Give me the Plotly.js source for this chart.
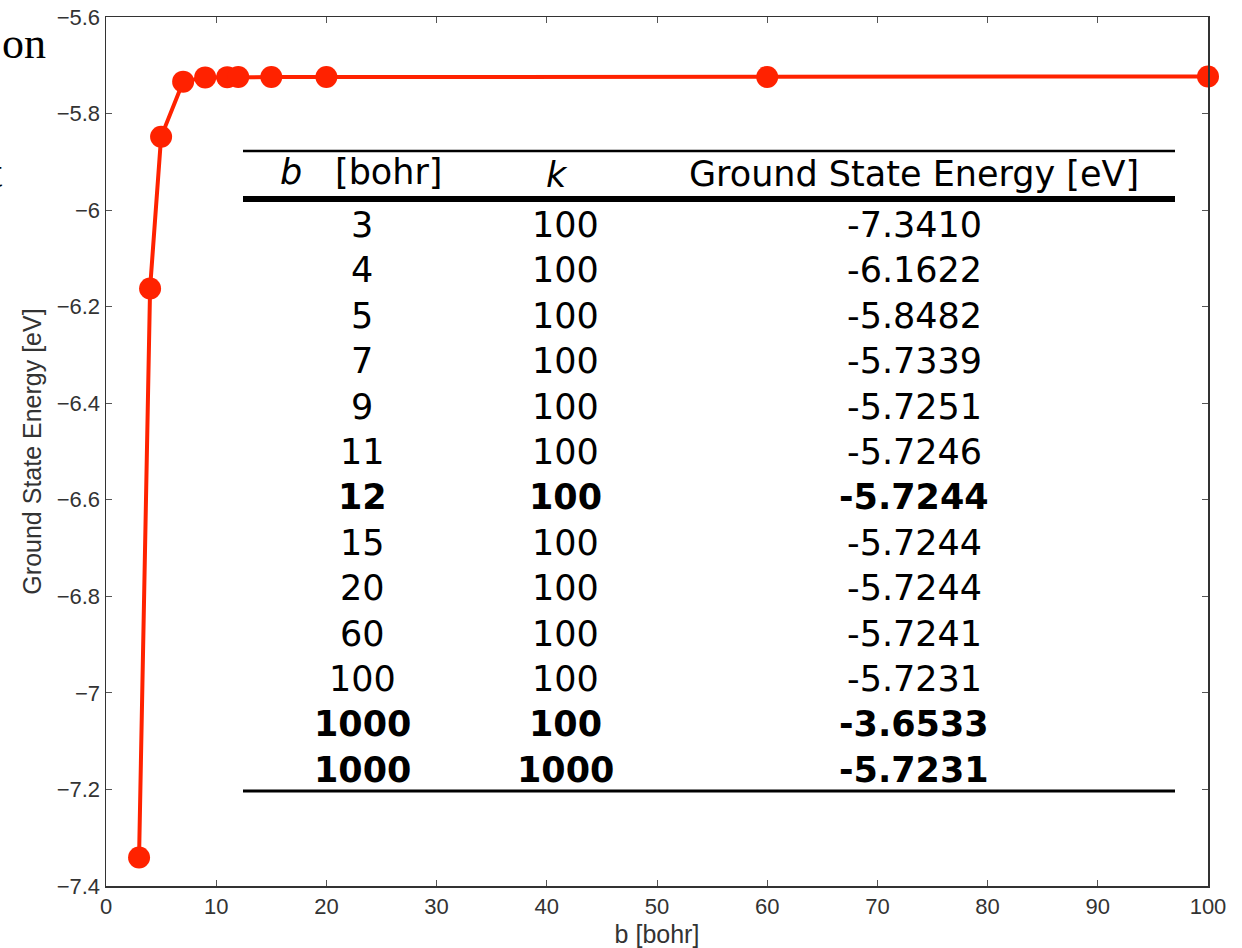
<!DOCTYPE html>
<html>
<head>
<meta charset="utf-8">
<script src="https://cdn.plot.ly/plotly-3.0.1.min.js"></script>
<style>html,body{margin:0;padding:0;background:#fff;}#chart{width:1242px;height:948px;}</style>
</head>
<body>
<div id="chart"></div>
<script>
// ---- data ----
const plotB = [3, 4, 5, 7, 9, 11, 12, 15, 20, 60, 100];
const plotE = [-7.3410, -6.1622, -5.8482, -5.7339, -5.7251, -5.7246, -5.7244, -5.7244, -5.7244, -5.7241, -5.7231];

const tableB = ['3','4','5','7','9','11','12','15','20','60','100','1000','1000'];
const tableK = ['100','100','100','100','100','100','100','100','100','100','100','100','1000'];
const tableE = ['-7.3410','-6.1622','-5.8482','-5.7339','-5.7251','-5.7246','-5.7244','-5.7244','-5.7244','-5.7241','-5.7231','-3.6533','-5.7231'];
const tableBold = [false,false,false,false,false,false,true,false,false,false,false,true,true];

const xTicks = [0,10,20,30,40,50,60,70,80,90,100];
const yTicks = [-7.4,-7.2,-7,-6.8,-6.6,-6.4,-6.2,-6,-5.8,-5.6];

// ---- layout helpers (pixel -> paper) ----
const W = 1242, H = 948;
const L = 106, R = 1208, T = 17, B = 886;
const px = x => (x - L) / (R - L);
const py = y => (B - y) / (B - T);

const annotations = [];
const shapes = [];
const tableFont = 'DejaVu Sans, Verdana, sans-serif';
const tfs = 35;
function addText(text, x, y, opts) {
  annotations.push(Object.assign({
    text: text, xref: 'paper', yref: 'paper', x: px(x), y: py(y),
    xanchor: 'center', yanchor: 'middle', showarrow: false,
    font: {family: tableFont, size: tfs, color: '#000'}
  }, opts || {}));
}
// header
addText('<i>b</i>', 291, 172);
addText('[bohr]', 389, 172);
addText('<i>k</i>', 557, 175);
addText('Ground State Energy [eV]', 914, 174);
const colX = [362, 565, 914];
const rowY0 = 225, rowDY = 45.4;
tableB.forEach((b, i) => {
  const y = rowY0 + i * rowDY;
  const wrap = s => tableBold[i] ? '<b>' + s + '</b>' : s;
  addText(wrap(b), colX[0], y);
  addText(wrap(tableK[i]), colX[1], y);
  addText(wrap(tableE[i]), colX[2], y);
});
function hline(y, w) {
  shapes.push({type: 'line', xref: 'paper', yref: 'paper', x0: px(243), x1: px(1175), y0: py(y), y1: py(y),
    line: {color: '#000', width: w}});
}
hline(151, 2.5);
hline(199, 6);
hline(791, 3);

// stray slide text on the left
annotations.push({text: 'on', xref: 'paper', yref: 'paper', x: px(0), y: py(44), xanchor: 'left', yanchor: 'middle',
  showarrow: false, font: {family: 'Liberation Serif, Times New Roman, serif', size: 44, color: '#000'}});
annotations.push({text: 't', xref: 'paper', yref: 'paper', x: px(4), y: py(172), xanchor: 'right', yanchor: 'middle',
  showarrow: false, font: {family: 'Liberation Serif, Times New Roman, serif', size: 44, color: '#000'}});

const red = 'rgb(255,34,0)';
const trace = {
  x: plotB, y: plotE, type: 'scatter', mode: 'lines+markers',
  line: {color: red, width: 4},
  marker: {color: red, size: 22},
  cliponaxis: false, hoverinfo: 'none'
};

const labelFont = {family: 'Liberation Sans, Arial, sans-serif', size: 22, color: '#333'};
const titleFont = {family: 'Liberation Sans, Arial, sans-serif', size: 25, color: '#333'};
const axisCommon = {
  showline: true, mirror: 'ticks', linecolor: '#333', linewidth: 1.5,
  ticks: 'inside', ticklen: 6, tickcolor: '#555', tickwidth: 1,
  showgrid: false, zeroline: false, tickmode: 'array',
  tickfont: labelFont
};

const layout = {
  width: W, height: H,
  margin: {l: L, r: W - R, t: T, b: H - B, pad: 0},
  paper_bgcolor: '#fff', plot_bgcolor: '#fff',
  showlegend: false,
  xaxis: Object.assign({}, axisCommon, {
    range: [0, 100], tickvals: xTicks, ticktext: xTicks.map(String),
    title: {text: 'b [bohr]', font: titleFont, standoff: 9}
  }),
  yaxis: Object.assign({}, axisCommon, {
    range: [-7.4, -5.6], tickvals: yTicks, ticktext: yTicks.map(v => (v < 0 ? '\u2212' : '') + String(Math.abs(v))),
    title: {text: 'Ground State Energy [eV]', font: titleFont, standoff: 8}
  }),
  annotations: annotations,
  shapes: shapes
};

Plotly.newPlot('chart', [trace], layout, {staticPlot: true, displayModeBar: false});
</script>
</body>
</html>
